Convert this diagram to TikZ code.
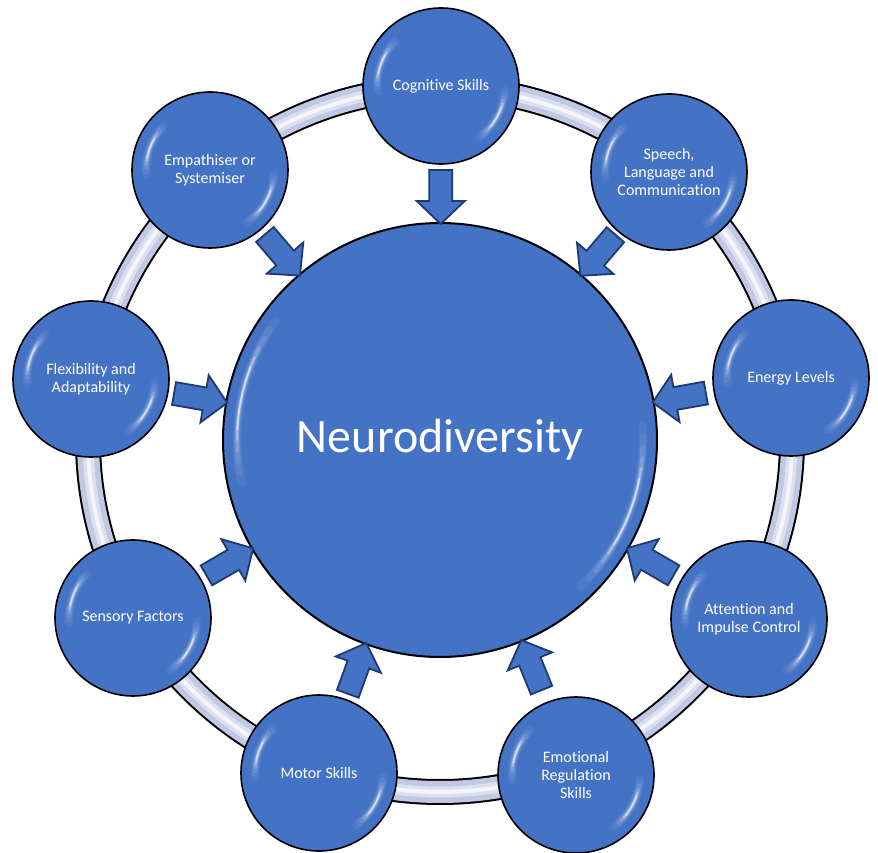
\documentclass[tikz,border=0pt]{standalone}
\usepackage{fontspec}
\setmainfont{Carlito}[Ligatures=NoCommon]
\usetikzlibrary{calc}

\definecolor{orbblue}{HTML}{4472C4}
\definecolor{orbrim}{HTML}{3A64B2}
\definecolor{arrowline}{HTML}{1F3A6E}
\definecolor{ringband}{HTML}{C0C8E3}
\definecolor{ringshine}{HTML}{EDF0F8}

% flat blue body that darkens slightly towards the rim
\pgfdeclareradialshading{orbshade}{\pgfpoint{0bp}{0bp}}{%
  color(0bp)=(orbblue); color(36bp)=(orbblue); color(47bp)=(orbrim); color(50bp)=(orbrim)}

\tikzset{
  % soft glossy crescents, upper left and lower right
  gloss/.style 2 args={path picture={
    \foreach \a/\b/\w/\o in {
        136/184/9/0.05, 139/181/7/0.07, 142/178/5/0.10, 145/175/3.5/0.16,
        148/172/2.4/0.28, 151/169/1.4/0.55,
        -54/-4/9/0.05, -51/-7/7/0.07, -48/-10/5/0.10, -45/-13/3.5/0.16,
        -42/-16/2.4/0.28, -39/-19/1.4/0.55}
      \draw[white, opacity=\o, line width=\w pt, line cap=round]
        ($(path picture bounding box.center)+({\a+#2}:#1pt)$)
        arc[start angle={\a+#2}, end angle={\b+#2}, radius=#1pt];
  }},
  orb/.style={circle, inner sep=0pt, draw=black, line width=1.6pt,
    shade, shading=orbshade, text=white, align=center},
  satellite/.style={orb, minimum size=156pt, gloss={64}{0},
    font=\fontsize{16}{18}\selectfont},
  hubnode/.style={orb, minimum size=434pt, line width=2pt, gloss={203}{8},
    font=\fontsize{48}{52}\selectfont},
  blockarrow/.style={fill=orbblue, draw=arrowline, line width=1.8pt, line join=miter}
}

% block arrow from a satellite to the hub, tip resting on the hub's rim
\newcommand\feedarrow[2]{%
  \coordinate (#1-tip) at ($(#2)!216pt!(#1)$);
  \coordinate (#1-neck) at ($(#2)!239pt!(#1)$);
  \coordinate (#1-tail) at ($(#2)!270pt!(#1)$);
  \draw[blockarrow]
    ($(#1-tail)!11.5pt!90:(#2)$) -- ($(#1-neck)!11.5pt!90:(#2)$) --
    ($(#1-neck)!24pt!90:(#2)$) -- (#1-tip) --
    ($(#1-neck)!24pt!-90:(#2)$) -- ($(#1-neck)!11.5pt!-90:(#2)$) --
    ($(#1-tail)!11.5pt!-90:(#2)$) -- cycle;
}

\begin{document}
\begin{tikzpicture}[x=1pt, y=1pt]
\useasboundingbox (0,0) rectangle (878,852);

\coordinate (hub) at (440,412);

% connecting ring
\draw[black, line width=26pt] (hub) circle[radius=352pt];
\draw[ringband, line width=22pt] (hub) circle[radius=352pt];
\draw[ringshine, opacity=0.6, line width=11pt] (hub) circle[radius=352pt];
\draw[white, opacity=0.7, line width=4pt] (hub) circle[radius=352pt];

% satellites
\node[satellite] (cog)     at (441,766) {Cognitive Skills};
\node[satellite] (speech)  at (669,680) {Speech,\\Language and\\Communication};
\node[satellite] (energy)  at (791,474) {Energy Levels};
\node[satellite] (attn)    at (749,233) {Attention and\\Impulse Control};
\node[satellite] (emo)     at (576,77)  {Emotional\\Regulation\\Skills};
\node[satellite] (motor)   at (319,79)  {Motor Skills};
\node[satellite] (sensory) at (133,234) {Sensory Factors};
\node[satellite] (flex)    at (91,473)  {Flexibility and\\Adaptability};
\node[satellite] (emp)     at (210,682) {Empathiser or\\Systemiser};

% centre
\node[hubnode] (main) at (hub) {Neurodiversity};

% arrows into the centre
\foreach \s in {cog, speech, energy, attn, emo, motor, sensory, flex, emp}{
  \feedarrow{\s}{main}
}
\end{tikzpicture}
\end{document}
